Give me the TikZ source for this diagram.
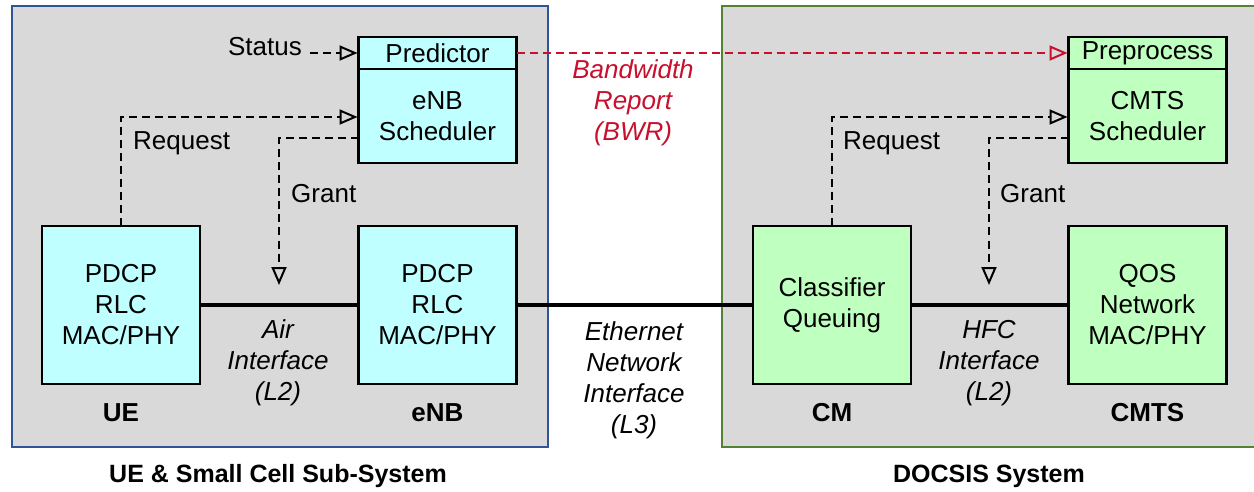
\documentclass[tikz,border=0pt]{standalone}
\usepackage{fontspec}
\setmainfont{Liberation Sans}
\usetikzlibrary{arrows.meta}

\definecolor{sysgray}{HTML}{D9D9D9}
\definecolor{cellfill}{HTML}{BFFFFF}
\definecolor{cablefill}{HTML}{BFFFBF}
\definecolor{cellframe}{HTML}{2F5597}
\definecolor{cableframe}{HTML}{548235}
\definecolor{bwrred}{HTML}{C8102E}

\tikzset{
  sysframe/.style={fill=sysgray, line width=2.4pt},
  unit/.style={draw=black, line width=2.2pt, minimum width=158pt,
    inner sep=0pt, outer sep=0pt, align=center},
  cellbox/.style={unit, fill=cellfill},
  cablebox/.style={unit, fill=cablefill},
  ctrl/.style={line width=2.2pt, dash pattern=on 8pt off 5pt,
    -{Triangle[open, length=18pt, width=15pt, line width=2pt]}},
  report/.style={ctrl, draw=bwrred},
  wire/.style={line width=4.5pt},
  tag/.style={inner sep=0pt, align=center},
  iface/.style={tag, font=\fontsize{26}{31}\selectfont\itshape},
  unitname/.style={tag, font=\fontsize{26}{31}\selectfont\bfseries},
  systitle/.style={tag, font=\fontsize{25}{31}\selectfont\bfseries},
}

\begin{document}
\begin{tikzpicture}[x=1pt, y=-1pt, font=\fontsize{26}{31}\selectfont]
  \clip (0,0) rectangle (1254,492);
  \fill[white] (0,0) rectangle (1254,492);

  % subsystem frames
  \draw[sysframe, draw=cellframe] (12,6) rectangle (548,447);
  \draw[sysframe, draw=cableframe] (722,6) rectangle (1262,447);

  % LTE side
  \node[cellbox, minimum height=158pt] (ue) at (121,305) {PDCP\\RLC\\MAC/PHY};
  \node[cellbox, minimum height=158pt] (enb) at (437.5,305) {PDCP\\RLC\\MAC/PHY};
  \node[cellbox, minimum height=32pt] (pred) at (437.5,53) {Predictor};
  \node[cellbox, minimum height=94pt, anchor=north] (sched) at (pred.south) {eNB\\Scheduler};

  % DOCSIS side
  \node[cablebox, minimum height=158pt] (cm) at (832,305) {Classifier\\Queuing};
  \node[cablebox, minimum height=158pt] (cmts) at (1147.5,305) {QOS\\Network\\MAC/PHY};
  \node[cablebox, minimum height=32pt] (prep) at (1147.5,53) {Preprocess};
  \node[cablebox, minimum height=94pt, anchor=north] (csched) at (prep.south) {CMTS\\Scheduler};

  % data path
  \draw[wire] (ue.east) -- (enb.west);
  \draw[wire] (enb.east) -- (cm.west);
  \draw[wire] (cm.east) -- (cmts.west);

  % request / grant signalling
  \node[tag, anchor=east] (status) at (302,47) {Status};
  \draw[ctrl] (status.east |- pred.west) ++(8,0) -- ([xshift=-1pt]pred.west);

  \coordinate (ltip) at (279,285);
  \coordinate (rtip) at (989,285);
  \draw[ctrl] (ue.north) |- ([xshift=-1pt, yshift=-1pt]sched.west);
  \draw[ctrl] ([yshift=-22pt]sched.west) -| (ltip);
  \draw[ctrl] (cm.north) |- ([xshift=-1pt, yshift=-1pt]csched.west);
  \draw[ctrl] ([yshift=-22pt]csched.west) -| (rtip);

  \node[tag, anchor=west] (lreq) at (133,143) {Request};
  \node[tag, anchor=west] (lgrant) at (291,194) {Grant};
  \node[tag, anchor=west] (rreq) at (843,143) {Request};
  \node[tag, anchor=west] (rgrant) at (1000,194) {Grant};

  % bandwidth report
  \draw[report] (pred.east) -- ([xshift=-1pt]prep.west);
  \node[iface, text=bwrred] (bwr) at (633,103) {Bandwidth\\Report\\(BWR)};

  % interface labels
  \node[iface] (air) at (278,363) {Air\\Interface\\(L2)};
  \node[iface] (eth) at (634,380) {Ethernet\\Network\\Interface\\(L3)};
  \node[iface] (hfc) at (989,363) {HFC\\Interface\\(L2)};

  % unit names
  \node[unitname] (uename) at (121,413) {UE};
  \node[unitname] (enbname) at (437.5,413) {eNB};
  \node[unitname] (cmname) at (832,413) {CM};
  \node[unitname] (cmtsname) at (1147.5,413) {CMTS};

  % subsystem titles
  \node[systitle] (celltitle) at (278,476) {UE \& Small Cell Sub-System};
  \node[systitle] (cabletitle) at (989,476) {DOCSIS System};
\end{tikzpicture}
\end{document}
